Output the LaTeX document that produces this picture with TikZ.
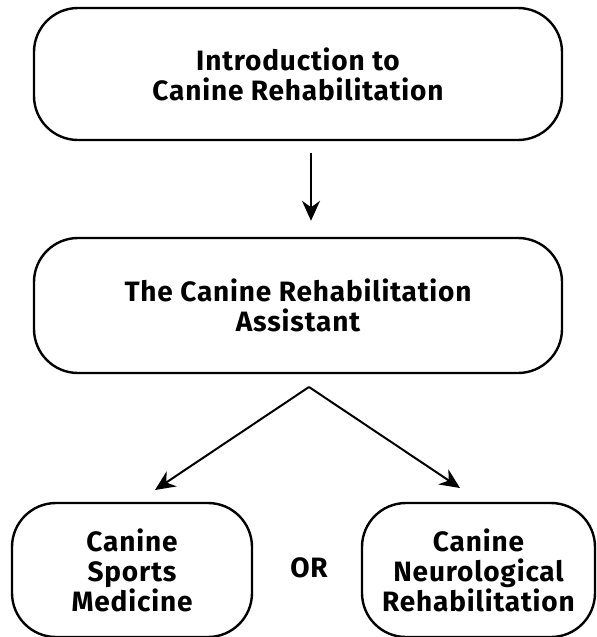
\documentclass[tikz,border=0pt]{standalone}
\usepackage{fontspec}
\setmainfont{Fira Sans}[LetterSpace=3]
\usetikzlibrary{arrows.meta}
\begin{document}
\begin{tikzpicture}[x=0.5pt,y=-0.5pt,>={Stealth[length=10pt,width=9pt]},
    box/.style={draw,line width=1.2pt,rounded corners=22pt,align=center,inner sep=0pt,
      font=\bfseries\fontsize{14}{15}\selectfont},
    link/.style={->,line width=1pt}]
            \useasboundingbox (0,0) rectangle (596,637);
            \node[box,minimum width=264pt,minimum height=66pt] (intro) at (298,74) {Introduction to\\Canine Rehabilitation};
            \node[box,minimum width=264pt,minimum height=67.5pt] (assistant) at (298,305.5) {The Canine Rehabilitation\\Assistant};
            \node[box,minimum width=120pt,minimum height=67pt] (sports) at (132,570) {Canine\\Sports\\Medicine};
            \node[box,minimum width=116.5pt,minimum height=67pt] (neuro) at (478.5,570) {Canine\\Neurological\\Rehabilitation};
            \node[font=\bfseries\fontsize{14}{15}\selectfont] (or) at (309,568) {OR};
            \coordinate (fork) at (309,387);
            \coordinate (sportsend) at (155,490);
            \coordinate (neuroend) at (460,488);
            \draw[link,shorten <=6pt,shorten >=8pt] ([xshift=6.5pt]intro.south) -- ([xshift=6.5pt]assistant.north);
            \draw[link] (fork) -- (sportsend);
            \draw[link] (fork) -- (neuroend);
        \end{tikzpicture}
\end{document}
